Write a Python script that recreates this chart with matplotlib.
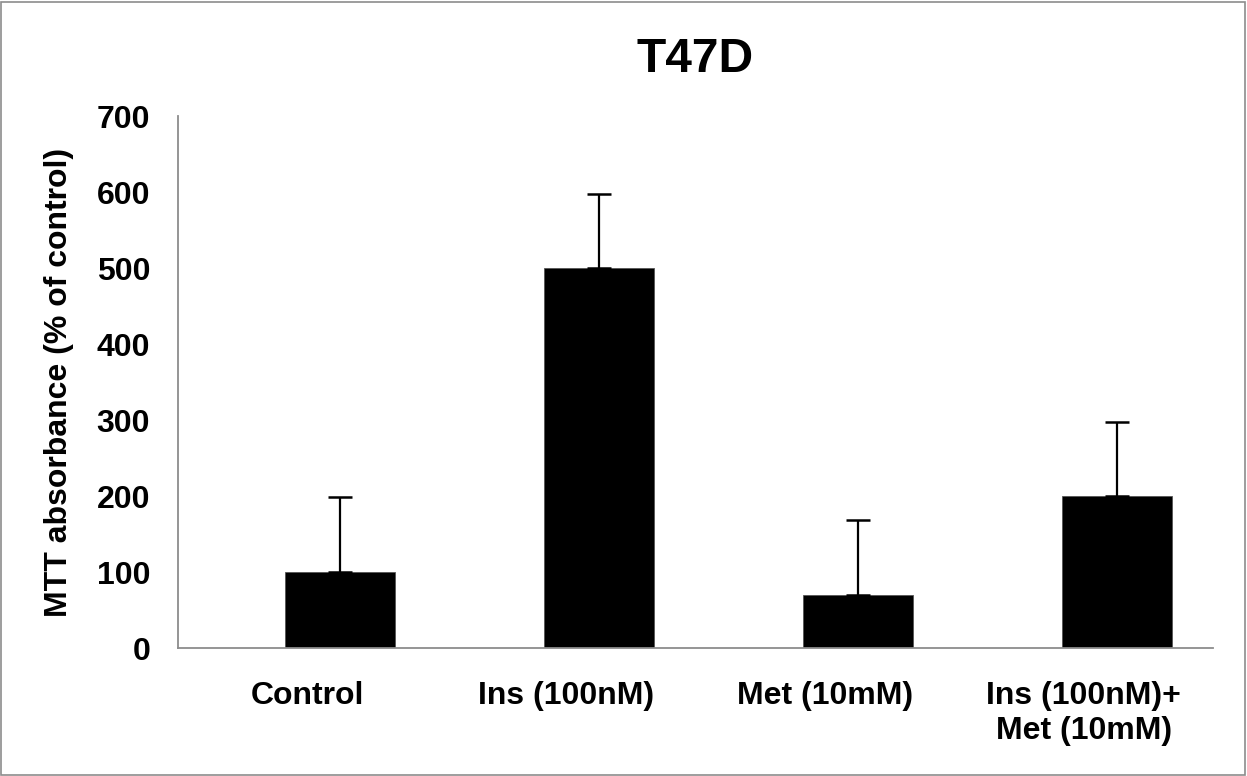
import matplotlib.pyplot as plt
from matplotlib.patches import Rectangle
import numpy as np

# values
categories = ["Control", "Ins (100nM)", "Met (10mM)", "Ins (100nM)+\nMet (10mM)"]
means = [100, 500, 70, 200]
errors = [99, 98, 98, 98]
y_ticks = [0, 100, 200, 300, 400, 500, 600, 700]

plt.rcParams["font.family"] = ["Liberation Sans", "DejaVu Sans"]
plt.rcParams["font.weight"] = "bold"

fig = plt.figure(figsize=(12.47, 7.76), dpi=100)
ax = fig.add_axes([0.1427, 0.1649, 0.83, 0.6856])

x = np.arange(len(categories))
# bars sit a little to the right of the category centre, as in the original
ax.bar(x + 0.128, means, width=0.425, color="black", edgecolor="#555555", linewidth=0.6)
ax.errorbar(x + 0.128, means, yerr=[np.zeros(len(errors)), errors], fmt="none",
            ecolor="black", elinewidth=1.6, capsize=8.5, capthick=1.8)

ax.set_xlim(-0.5, 3.5)
ax.set_ylim(0, 700)
ax.set_yticks(y_ticks)
ax.set_xticks(x)
ax.set_xticklabels(categories, fontsize=23, fontweight="bold")
ax.tick_params(axis="y", length=0, pad=20, labelsize=23)
ax.tick_params(axis="x", length=0, pad=24)

for side in ["top", "right"]:
    ax.spines[side].set_visible(False)
for side in ["left", "bottom"]:
    ax.spines[side].set_color("#8c8c8c")
    ax.spines[side].set_linewidth(1.3)

ax.set_ylabel("MTT absorbance (% of control)", fontsize=23, fontweight="bold", labelpad=16)
ax.set_title("T47D", fontsize=34.5, fontweight="bold", pad=32)

fig.patches.append(Rectangle((0.001, 0.001), 0.997, 0.996, transform=fig.transFigure,
                             fill=False, edgecolor="#8c8c8c", linewidth=1.2))

fig.savefig("out.png", dpi=100)
